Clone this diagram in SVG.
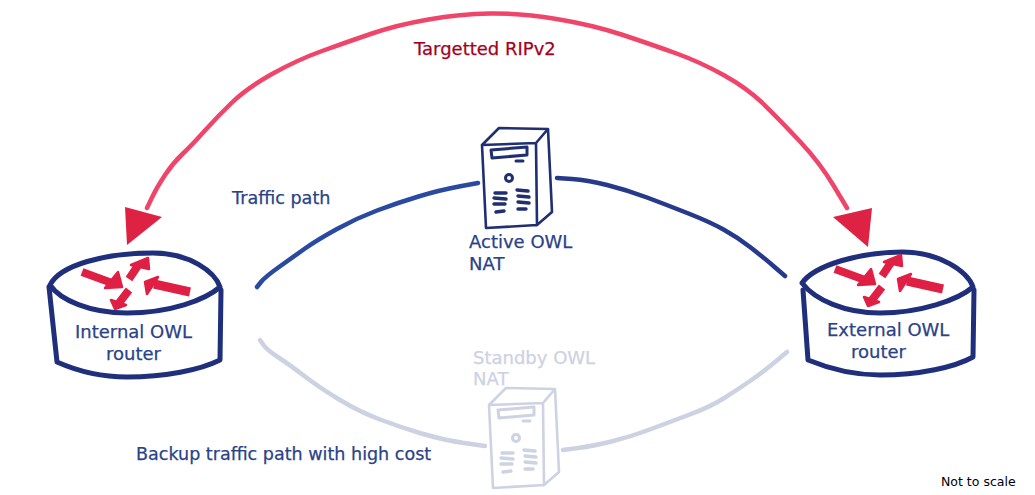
<svg xmlns="http://www.w3.org/2000/svg" width="1035" height="495" viewBox="0 0 1035 495">
<style>
text{font-family:"DejaVu Sans",sans-serif;font-size:18px;fill:#2a4288;stroke:#2a4288;stroke-width:.25}
.r{fill:none;stroke:#1f2f7c;stroke-width:5;stroke-linecap:round;stroke-linejoin:round}
.ra{fill:#e01f45;stroke:#e01f45;stroke-width:2.5;stroke-linejoin:round}
.rs{fill:none;stroke:#e01f45;stroke-width:8;stroke-linecap:butt}
.s{fill:none;stroke-width:2.6;stroke-linecap:round;stroke-linejoin:round}
.sa{stroke:#1f2f72}.sb{stroke:#cdd3e3}
.l{fill:none;stroke-width:4.5;stroke-linecap:round}
</style>
<defs>
<g id="arrows">
<path class="rs" d="M82 272L112 283"/><path class="ra" d="M118 272L122 287L105 288Z"/>
<path class="rs" d="M129 279L139 264"/><path class="ra" d="M131 265L148 258L149 269Z"/>
<path class="rs" style="stroke-width:9" d="M190 292L154 284"/><path class="ra" d="M158 277L145 282L147 294Z"/>
<path class="rs" d="M129 290L119 303"/><path class="ra" d="M111 300L115 309L126 305Z"/>
</g>
<g id="srv">
<path d="M482 145L536 143L537 225L486 228Z M482 145L499 128L548 129L536 143M548 129L552 212L537 225"/>
<path stroke-width="3" d="M491 150L527 147L527 155L492 158Z"/>
<path stroke-width="3" d="M516 161L523 161"/>
<circle cx="509" cy="178" r="3.5" stroke-width="3"/>
<path stroke-width="3.4" d="M495 193L506 193M494 198L506 199M494 204L505 204M496 212L504 211M517 190L528 191M518 196L529 197M518 202L529 203M518 209L526 209"/>
</g>
</defs>
<g id="connectors">
<path class="l" stroke="#f0456a" d="M147 208L152 197.5Q157 187 165 175Q173 163 182.5 154Q192 145 204.5 131Q217 117 232 102.5Q247 88 272 74Q297 60 322 51Q347 42 372 33.5Q397 25 428.5 19.5Q460 14 490 13.5Q520 13 556.5 19Q593 25 623 35Q653 45 676.5 53.5Q700 62 723.5 75Q747 88 763.5 104Q780 120 800 141.5Q820 163 833.5 185.5L847 208"/>
<path fill="#dd2244" d="M125 207L162 217L127 245Z"/>
<path fill="#dd2244" d="M833 217L872 208L868 247Z"/>
<path class="l" stroke="#2a49a0" d="M257 287L261 282Q265 277 279 267Q293 257 305 248.5Q317 240 337 229Q357 218 377 210.5Q397 203 418.5 196.5Q440 190 459 186.5L478 183"/>
<path class="l" stroke="#27398a" d="M557 178L572 179Q587 180 607 185Q627 190 647 197.5Q667 205 688.5 213.5Q710 222 723.5 229.5Q737 237 750 247Q763 257 774 266.5L785 276"/>
<path class="l" stroke="#ccd2e2" d="M260 340L263.5 345Q267 350 278.5 357.5Q290 365 305 376.5Q320 388 340 400Q360 412 380 419.5Q400 427 421.5 433.5Q443 440 464 443L485 446"/>
<path class="l" stroke="#ccd2e2" d="M563 450L578 448Q593 446 611.5 441.5Q630 437 648.5 430Q667 423 688.5 415Q710 407 723.5 398.5Q737 390 750 381Q763 372 775 362L787 352"/>
</g>
<g id="internal-router">
<path class="r" d="M50 285C60 265 105 253 153 253C190 253 215 272 220 287C205 300 170 313 127 313C90 313 60 300 50 285Z"/>
<path class="r" d="M49 287L57 362C75 370 100 377 127 377C165 377 200 370 220 360L221 290"/>
<use href="#arrows"/>
<text x="75" y="338">Internal OWL</text>
<text x="106" y="360">router</text>
</g>
<g id="external-router">
<path class="r" d="M802 283C815 265 860 252 903 252C940 252 968 272 973 287C958 300 920 313 880 313C845 313 815 300 802 283Z"/>
<path class="r" d="M803 290L808 360C825 367 850 375 880 375C920 375 955 367 973 357L974 290"/>
<use href="#arrows" transform="translate(753,-3)"/>
<text x="827" y="336">External OWL</text>
<text x="851" y="358">router</text>
</g>
<g id="active-nat">
<use href="#srv" class="s sa"/>
<text x="469" y="248">Active OWL</text>
<text x="469" y="270">NAT</text>
</g>
<g id="standby-nat">
<use href="#srv" class="s sb" transform="translate(7,260)"/>
<text x="473" y="364" style="fill:#ccd2e2;stroke:#ccd2e2">Standby OWL</text>
<text x="473" y="385" style="fill:#ccd2e2;stroke:#ccd2e2">NAT</text>
</g>
<g id="labels">
<text x="414" y="55" style="fill:#a5001e;stroke:#a5001e">Targetted RIPv2</text>
<text x="232" y="204" style="font-size:17.6px">Traffic path</text>
<text x="136" y="460" style="font-size:17.55px">Backup traffic path with high cost</text>
<text x="941" y="486" style="fill:#000;stroke:none;font-size:12.5px">Not to scale</text>
</g>
</svg>
